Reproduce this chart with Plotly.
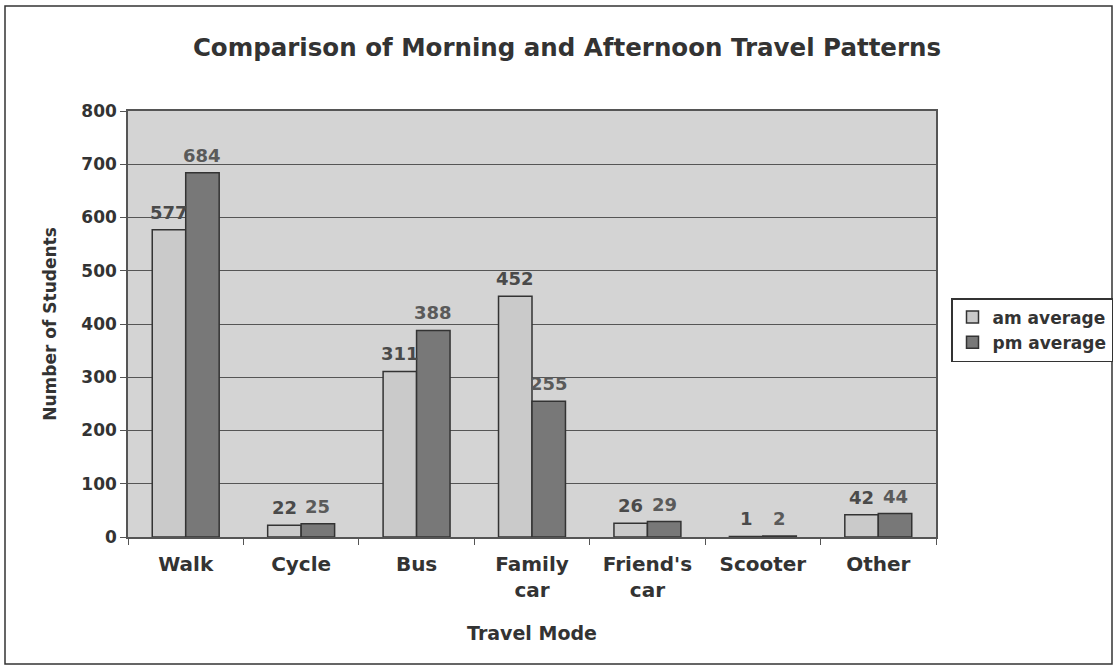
import plotly.graph_objects as go

categories = ["Walk", "Cycle", "Bus", "Family<br>car", "Friend's<br>car", "Scooter", "Other"]
am_values = [577, 22, 311, 452, 26, 1, 42]
pm_values = [684, 25, 388, 255, 29, 2, 44]
y_ticks = [0, 100, 200, 300, 400, 500, 600, 700, 800]

W, H = 1115, 672
ML, MR, MT, MB = 128, 179, 111, 135
pw, ph = W - ML - MR, H - MT - MB
BARGAP = 0.42

def px_x(p):
    return (p - ML) / pw

def px_y(p):
    return (H - MB - p) / ph

FF = "DejaVu Sans, sans-serif"
DARK = "#333333"

fig = go.Figure()
fig.add_trace(go.Bar(
    name="<b>am average</b>", x=categories, y=am_values,
    marker=dict(color="#cacaca", line=dict(color="#333333", width=1.5)),
))
fig.add_trace(go.Bar(
    name="<b>pm average</b>", x=categories, y=pm_values,
    marker=dict(color="#787878", line=dict(color="#333333", width=1.5)),
))

# value labels placed above each bar (offset half a bar width left/right)
half_bar = pw / len(categories) * (1 - BARGAP) / 4
annotations = []
for vals, sign, col in ((am_values, -1, "#4a4a4a"), (pm_values, 1, "#5a5a5a")):
    for c, v in zip(categories, vals):
        annotations.append(dict(
            x=c, y=v, xref="x", yref="y", text="<b>%d</b>" % v,
            showarrow=False, xanchor="center", yanchor="bottom",
            xshift=sign * half_bar, yshift=5,
            font=dict(size=18, color=col, family=FF),
        ))

fig.update_layout(
    width=W, height=H,
    margin=dict(l=ML, r=MR, t=MT, b=MB, autoexpand=False),
    paper_bgcolor="white",
    plot_bgcolor="#d4d4d4",
    barmode="group",
    bargap=BARGAP,
    bargroupgap=0,
    font=dict(family=FF, color=DARK),
    title=dict(
        text="<b>Comparison of Morning and Afternoon Travel Patterns</b>",
        x=(193 + 941) / 2 / W, xanchor="center", xref="container",
        y=1 - 47 / H, yanchor="middle", yref="container",
        font=dict(size=24.5, color=DARK, family=FF),
    ),
    xaxis=dict(
        title=dict(text="<b>Travel Mode</b>", font=dict(size=19, color=DARK), standoff=26),
        tickvals=categories,
        ticktext=["<b>" + c + "</b>" for c in categories],
        tickfont=dict(size=20, color=DARK),
        tickson="boundaries",
        ticks="outside", ticklen=6, tickcolor="#555555",
        ticklabelstandoff=8,
        showline=True, linecolor="#555555", linewidth=1.5,
        mirror=True,
        showgrid=False,
    ),
    yaxis=dict(
        title=dict(text="<b>Number of Students</b>", font=dict(size=17, color=DARK), standoff=20),
        range=[0, 800], tickvals=y_ticks,
        ticktext=["<b>%d</b>" % v for v in y_ticks],
        tickfont=dict(size=17, color=DARK),
        showline=True, linecolor="#555555", linewidth=1.5, mirror=True,
        ticks="outside", ticklen=6, tickcolor="#555555",
        gridcolor="#555555", gridwidth=1.3,
        zeroline=False,
    ),
    legend=dict(
        x=px_x(951), y=px_y(298), xanchor="left", yanchor="top",
        bordercolor="#333333", borderwidth=1.5, bgcolor="white",
        font=dict(size=17, color=DARK),
        itemwidth=30, tracegroupgap=2,
    ),
    annotations=annotations,
    shapes=[dict(
        type="rect", xref="paper", yref="paper",
        x0=px_x(5), x1=px_x(1112), y0=px_y(664), y1=px_y(6),
        line=dict(color="#333333", width=1.5), fillcolor="rgba(0,0,0,0)", layer="below",
    )],
)

fig.write_html("out.html", post_script="document.body.style.margin='0';",
               config={"displayModeBar": False})
